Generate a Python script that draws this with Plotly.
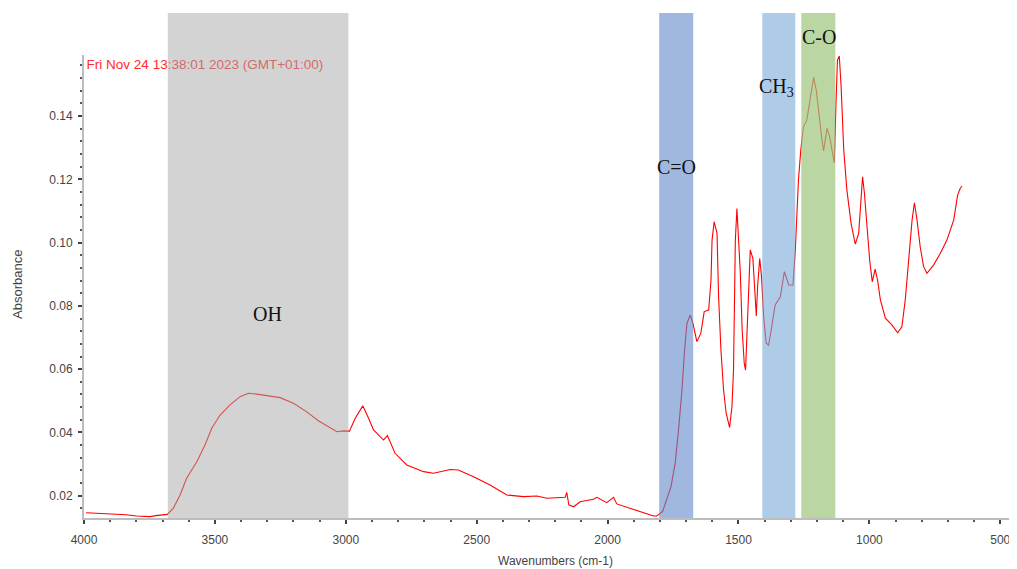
import plotly.graph_objects as go

# ---- spectrum data ----
wavenumber = [3992, 3940, 3888, 3840, 3799, 3748, 3725, 3710, 3682, 3659, 3633, 3608, 3569, 3538,
              3512, 3480, 3442, 3404, 3372, 3340, 3289, 3251, 3200, 3149, 3105, 3066, 3034, 3009,
              2986, 2964, 2935, 2913, 2894, 2856, 2841, 2831, 2812, 2767, 2703, 2665, 2601, 2570,
              2512, 2449, 2385, 2321, 2270, 2232, 2181, 2162, 2156, 2148, 2130, 2105, 2054, 2041,
              2003, 1977, 1965, 1901, 1825, 1812, 1790, 1758, 1742, 1729, 1716, 1706, 1697, 1684,
              1674, 1659, 1644, 1631, 1614, 1605, 1601, 1593, 1582, 1576, 1567, 1557, 1547, 1534,
              1525, 1519, 1512, 1506, 1500, 1493, 1486, 1478, 1473, 1467, 1461, 1455, 1445, 1440,
              1435, 1432, 1427, 1419, 1412, 1404, 1394, 1385, 1373, 1360, 1340, 1325, 1308, 1292,
              1283, 1277, 1271, 1262, 1252, 1239, 1226, 1213, 1203, 1190, 1181, 1175, 1162, 1152,
              1143, 1134, 1128, 1122, 1115, 1108, 1098, 1086, 1070, 1054, 1041, 1032, 1026, 1019,
              1009, 999, 989, 978, 969, 958, 939, 914, 892, 876, 863, 850, 837, 828, 818, 806,
              793, 780, 755, 729, 704, 678, 663, 653, 646]
absorbance = [0.0146, 0.0144, 0.0142, 0.0140, 0.0136, 0.0134, 0.0137, 0.0139, 0.0141, 0.0160, 0.0202,
              0.0255, 0.0307, 0.0360, 0.0413, 0.0455, 0.0487, 0.0513, 0.0524, 0.0521, 0.0515, 0.0510,
              0.0492, 0.0465, 0.0437, 0.0418, 0.0402, 0.0405, 0.0404, 0.0445, 0.0484, 0.0445, 0.0408,
              0.0376, 0.0390, 0.0371, 0.0334, 0.0297, 0.0276, 0.0271, 0.0283, 0.0281, 0.0260, 0.0234,
              0.0202, 0.0197, 0.0199, 0.0192, 0.0195, 0.0195, 0.0210, 0.0171, 0.0165, 0.0181, 0.0189,
              0.0195, 0.0178, 0.0195, 0.0174, 0.0157, 0.0136, 0.0136, 0.0150, 0.0228, 0.0302, 0.0408,
              0.0534, 0.0660, 0.0745, 0.0771, 0.0745, 0.0687, 0.0713, 0.0782, 0.0787, 0.0882, 0.1008,
              0.1066, 0.1029, 0.0829, 0.0660, 0.0534, 0.0460, 0.0416, 0.0481, 0.0597, 0.1008, 0.1108,
              0.1019, 0.0903, 0.0724, 0.0618, 0.0597, 0.0724, 0.0903, 0.0977, 0.0950, 0.0882, 0.0813,
              0.0768, 0.0861, 0.0950, 0.0892, 0.0766, 0.0682, 0.0676, 0.0734, 0.0803, 0.0829, 0.0908,
              0.0866, 0.0866, 0.0975, 0.1100, 0.1198, 0.1293, 0.1366, 0.1387, 0.1461, 0.1522, 0.1482,
              0.1377, 0.1324, 0.1290, 0.1361, 0.1335, 0.1293, 0.1252, 0.1429, 0.1577, 0.1590, 0.1493,
              0.1293, 0.1166, 0.1061, 0.0995, 0.1029, 0.1135, 0.1208, 0.1156, 0.1050, 0.0945, 0.0876,
              0.0916, 0.0882, 0.0819, 0.0761, 0.0740, 0.0715, 0.0734, 0.0819, 0.0945, 0.1071, 0.1126,
              0.1071, 0.0987, 0.0924, 0.0903, 0.0929, 0.0966, 0.1008, 0.1071, 0.1150, 0.1172, 0.1179]

# ---- highlighted bands ----
band_names = ["OH", "C=O", "CH<sub>3</sub>", "C-O"]
band_start = [3680, 1803, 1409, 1260]
band_end = [2990, 1673, 1283, 1130]
band_colors = ["rgb(167,167,167)", "rgb(97,137,203)", "rgb(120,168,217)", "rgb(155,196,124)"]
band_opacity = [0.5, 0.6, 0.6, 0.7]
label_x = [3301, 1738, 1356, 1191]
label_ypx = [314, 167, 88, 37]   # vertical label placement, page pixels

x_ticks = [4000, 3500, 3000, 2500, 2000, 1500, 1000, 500]
timestamp = "Fri Nov 24 13:38:01 2023 (GMT+01:00)"

# the page body has an 8px default margin: size the figure so the plot lands where the reference has it
OFF = 8
W, H = 1017 - OFF, 569 - OFF
ml, mr, mt, mb = 84 - OFF, 1, 55 - OFF, 51
pw, ph = W - ml - mr, H - mt - mb


def px_to_paper_x(px):
    return (px - OFF - ml) / pw


def px_to_paper_y(py):
    return (H - mb - (py - OFF)) / ph


fig = go.Figure()
fig.add_trace(go.Scatter(
    x=wavenumber, y=absorbance, mode="lines",
    line=dict(color="#ff0000", width=1.1), showlegend=False, hoverinfo="skip"))
fig.add_trace(go.Scatter(
    x=[3990], y=[0.1561], mode="text", text=[timestamp], textposition="middle right",
    textfont=dict(family="Liberation Sans, Arial", size=13.5, color="#ff2a2a"),
    showlegend=False, hoverinfo="skip", cliponaxis=False))

for s, e, c, op in zip(band_start, band_end, band_colors, band_opacity):
    fig.add_shape(type="rect", xref="x", yref="paper", x0=s, x1=e, y0=0, y1=px_to_paper_y(13),
                  fillcolor=c, opacity=op, line=dict(width=0), layer="above")

for name, lx, ly in zip(band_names, label_x, label_ypx):
    fig.add_annotation(x=lx, y=px_to_paper_y(ly), xref="x", yref="paper", text=name, showarrow=False,
                       xanchor="center", yanchor="middle",
                       font=dict(family="Liberation Serif, Times New Roman", size=20, color="#111111"))

fig.add_annotation(x=px_to_paper_x(17), y=px_to_paper_y(285), xref="paper", yref="paper",
                   text="Absorbance", showarrow=False, textangle=-90,
                   xanchor="center", yanchor="middle",
                   font=dict(family="Liberation Sans, Arial", size=13, color="#444444"))
fig.add_annotation(x=px_to_paper_x(555), y=px_to_paper_y(561), xref="paper", yref="paper",
                   text="Wavenumbers (cm-1)", showarrow=False,
                   xanchor="center", yanchor="middle",
                   font=dict(family="Liberation Sans, Arial", size=12, color="#444444"))

fig.update_layout(
    width=W, height=H, margin=dict(l=ml, r=mr, t=mt, b=mb, autoexpand=False),
    plot_bgcolor="white", paper_bgcolor="white",
    font=dict(family="Liberation Sans, Arial", size=12, color="#444444"),
)
fig.update_xaxes(range=[4000, 440], tickvals=x_ticks, showgrid=False, zeroline=False,
                 automargin=False,
                 showline=True, linecolor="#bdbdbd", linewidth=2,
                 ticks="outside", ticklen=4, tickcolor="#444444", tickwidth=1.5,
                 ticklabelstandoff=6,
                 minor=dict(dtick=100, ticks="outside", ticklen=2, tickcolor="#555555", tickwidth=1.5))
fig.update_yaxes(range=[0.01295, 0.1593], dtick=0.02, tick0=0, tickformat=".2f",
                 showgrid=False, zeroline=False, automargin=False,
                 showline=True, linecolor="#bdbdbd", linewidth=2,
                 ticks="outside", ticklen=4, tickcolor="#444444", tickwidth=1.5,
                 ticklabelstandoff=3,
                 minor=dict(dtick=0.004, ticks="outside", ticklen=2, tickcolor="#555555", tickwidth=1.5))

fig.write_html("out.html")
